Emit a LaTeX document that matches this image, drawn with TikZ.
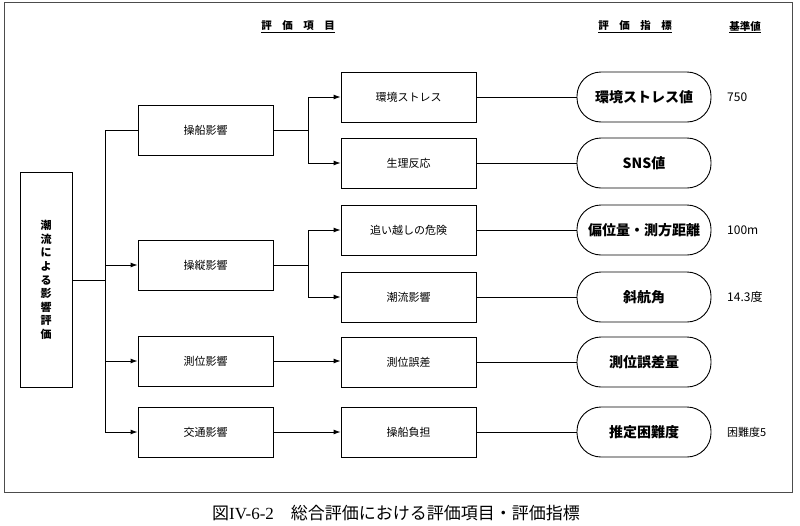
\documentclass[tikz,border=0pt]{standalone}
\usepackage{fontspec}
\setmainfont{Noto Sans CJK JP}
\newfontfamily\capserif{Liberation Serif}
\usetikzlibrary{arrows.meta}
\tikzset{
  box/.style={draw, line width=0.9pt, minimum width=135pt, minimum height=50pt, inner sep=0pt, font=\fontsize{11}{13}\selectfont},
  pill/.style={draw, line width=0.9pt, minimum width=134pt, minimum height=50pt, rounded corners=24pt, inner sep=0pt, font=\fontsize{14}{16}\selectfont\bfseries},
  conn/.style={line width=0.9pt},
  arr/.style={line width=0.9pt, -{Latex[length=7pt,width=5pt]}},
  hdr/.style={font=\fontsize{10.5}{12}\selectfont\bfseries, inner sep=1pt},
  val/.style={anchor=west, font=\fontsize{12}{14}\selectfont, inner sep=0pt}
}
\begin{document}
\begin{tikzpicture}[x=1pt,y=-1pt]
\useasboundingbox (0,0) rectangle (800,525);
\draw[line width=0.7pt, black!70] (4,2) rectangle (792,492);
% headers
\node[hdr] (h1) at (298,27) {\underline{評\hspace{1em}価\hspace{1em}項\hspace{1em}目}};
\node[hdr] (h2) at (635,27) {\underline{評\hspace{1em}価\hspace{1em}指\hspace{1em}標}};
\node[hdr] (h3) at (745,27) {\underline{基準値}};
% left box
\node[draw, line width=0.9pt, minimum width=52pt, minimum height=215pt, inner sep=0pt, align=center, font=\fontsize{11}{13.6}\selectfont\bfseries] (L) at (46,280) {潮\\流\\に\\よ\\る\\影\\響\\評\\価};
% level 1
\node[box] (A) at (205.5,130) {操船影響};
\node[box] (B) at (205.5,265) {操縦影響};
\node[box] (C) at (205.5,361) {測位影響};
\node[box] (D) at (205.5,432) {交通影響};
% level 2
\node[box] (A1) at (408.5,97) {環境ストレス};
\node[box] (A2) at (408.5,163) {生理反応};
\node[box] (B1) at (408.5,230) {追い越しの危険};
\node[box] (B2) at (408.5,297) {潮流影響};
\node[box] (C1) at (408.5,362) {測位誤差};
\node[box] (D1) at (408.5,432) {操船負担};
% indicators
\node[pill] (P1) at (644,97) {環境ストレス値};
\node[pill] (P2) at (644,163) {SNS値};
\node[pill] (P3) at (644,230) {偏位量・測方距離};
\node[pill] (P4) at (644,297) {斜航角};
\node[pill] (P5) at (644,362) {測位誤差量};
\node[pill] (P6) at (644,432) {推定困難度};
% values
\node[val] (v1) at (727,97) {750};
\node[val] (v3) at (727,230) {100m};
\node[val] (v4) at (727,297) {14.3度};
\node[val, font=\fontsize{11}{13}\selectfont] (v6) at (727,432) {困難度5};
% trunk
\coordinate (t0) at (105,280);
\coordinate (tA) at (105,130);
\coordinate (tB) at (105,265);
\coordinate (tC) at (105,361);
\coordinate (tD) at (105,432);
\draw[conn] (L.east |- t0) -- (t0);
\draw[conn] (tA) -- (tD);
\draw[conn] (tA) -- (A.west);
\draw[arr] (tB) -- (B.west);
\draw[arr] (tC) -- (C.west);
\draw[arr] (tD) -- (D.west);
% A branch
\coordinate (sA) at (308,130);
\coordinate (sA1) at (308,97);
\coordinate (sA2) at (308,163);
\draw[conn] (A.east) -- (sA);
\draw[conn] (sA1) -- (sA2);
\draw[arr] (sA1) -- (A1.west);
\draw[arr] (sA2) -- (A2.west);
% B branch
\coordinate (sB) at (308,265);
\coordinate (sB1) at (308,230);
\coordinate (sB2) at (308,297);
\draw[conn] (B.east) -- (sB);
\draw[conn] (sB1) -- (sB2);
\draw[arr] (sB1) -- (B1.west);
\draw[arr] (sB2) -- (B2.west);
% C, D
\draw[arr] (C.east) -- (C1.west |- C.east);
\draw[arr] (D.east) -- (D1.west);
% to indicators
\draw[conn] (A1.east) -- (P1.west);
\draw[conn] (A2.east) -- (P2.west);
\draw[conn] (B1.east) -- (P3.west);
\draw[conn] (B2.east) -- (P4.west);
\draw[conn] (C1.east) -- (P5.west);
\draw[conn] (D1.east) -- (P6.west);
% caption
\node[anchor=west, inner sep=0pt, font=\fontsize{17}{19}\selectfont] (cap) at (212,513) {図{\capserif IV-6-2}\hspace{1em}総合評価における評価項目・評価指標};
\end{tikzpicture}
\end{document}
